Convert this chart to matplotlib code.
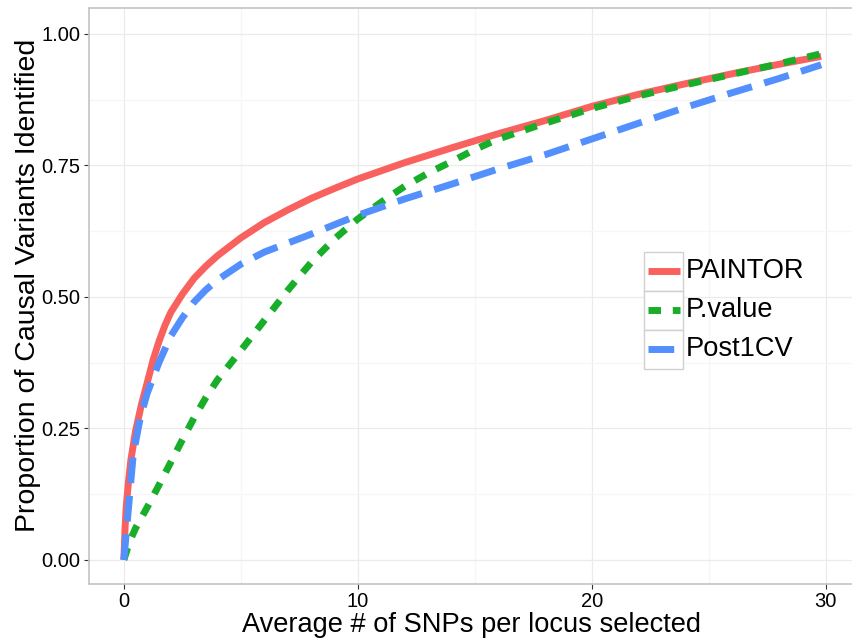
import matplotlib
matplotlib.use("Agg")
import matplotlib.pyplot as plt
from matplotlib.lines import Line2D
from matplotlib.patches import Rectangle
import numpy as np

plt.rcParams['font.family'] = ['Liberation Sans', 'DejaVu Sans']

# curves read as (avg SNPs selected, proportion of causal variants found)
paintor_x = [0, 0.05, 0.1, 0.2, 0.3, 0.5, 0.75, 1, 1.25, 1.5, 1.75, 2, 2.5, 3, 3.5, 4, 5, 6, 7, 8, 9, 10,
             12, 14, 16, 18, 20, 22, 24, 26, 28, 29.8]
paintor_y = [0.0, 0.06, 0.10, 0.15, 0.19, 0.245, 0.295, 0.337, 0.38, 0.415, 0.445, 0.47, 0.505, 0.535,
             0.558, 0.578, 0.612, 0.641, 0.665, 0.687, 0.706, 0.724, 0.755, 0.783, 0.81, 0.835, 0.862,
             0.885, 0.905, 0.924, 0.942, 0.957]

pvalue_x = [0, 0.25, 0.5, 1, 1.5, 2, 2.5, 3, 3.5, 4, 5, 6, 7, 8, 9, 10, 11, 12, 13, 14, 15, 16, 18, 20,
            22, 24, 26, 28, 29.8]
pvalue_y = [0.0, 0.035, 0.06, 0.10, 0.142, 0.185, 0.228, 0.27, 0.308, 0.342, 0.398, 0.455, 0.512, 0.565,
            0.61, 0.648, 0.68, 0.71, 0.735, 0.757, 0.78, 0.80, 0.83, 0.858, 0.882, 0.903, 0.923, 0.943, 0.962]

post1cv_x = [0, 0.1, 0.2, 0.4, 0.7, 1, 1.5, 2, 2.5, 3, 3.5, 4, 5, 6, 7, 8, 9, 10, 12, 14, 16, 18, 20, 22,
             24, 26, 28, 29.8]
post1cv_y = [0.0, 0.05, 0.10, 0.20, 0.27, 0.317, 0.375, 0.425, 0.46, 0.49, 0.513, 0.532, 0.562, 0.585,
             0.602, 0.619, 0.637, 0.655, 0.686, 0.714, 0.743, 0.77, 0.80, 0.83, 0.86, 0.888, 0.915, 0.941]

labels = ['PAINTOR', 'P.value', 'Post1CV']
colors = ['#F8615E', '#18AE2A', '#5390FE']
dashes = [None, (1.8, 1.7), (3.7, 1.85)]  # in units of line width

x_ticks = [0, 10, 20, 30]
y_ticks = [0.00, 0.25, 0.50, 0.75, 1.00]
y_ticklabels = ['0.00', '0.25', '0.50', '0.75', '1.00']

W, H = 852, 640
fig = plt.figure(figsize=(W / 100, H / 100), dpi=100)
ax = fig.add_axes([89 / W, 1 - 584 / H, (856 - 89) / W, (584 - 8) / H])
ax.set_xlim(-1.49, 31.29)
ax.set_ylim(-0.046, 1.049)

lw = 5.0
series = [(paintor_x, paintor_y), (pvalue_x, pvalue_y), (post1cv_x, post1cv_y)]
for (xs, ys), c, d in zip(series, colors, dashes):
    line, = ax.plot(xs, ys, color=c, lw=lw, solid_capstyle='butt', dash_capstyle='butt',
                    solid_joinstyle='round')
    if d is not None:
        line.set_dashes(d)

ax.set_xticks(x_ticks)
ax.set_yticks(y_ticks)
ax.set_yticklabels(y_ticklabels)
ax.set_xticks([5, 15, 25], minor=True)
ax.set_yticks([0.125, 0.375, 0.625, 0.875], minor=True)
ax.grid(which='major', color='#EBEBEB', lw=0.9)
ax.grid(which='minor', color='#F6F6F6', lw=0.9)
ax.set_axisbelow(True)
ax.tick_params(which='major', length=3.6, width=0.8, color='#333333', labelsize=14.5, pad=2.5)
ax.tick_params(which='minor', length=0)
for s in ax.spines.values():
    s.set_color('#C4C4C4')
    s.set_linewidth(1.2)

ax.set_xlabel('Average # of SNPs per locus selected', fontsize=19.6)
ax.set_ylabel('Proportion of Causal Variants Identified', fontsize=20.5)
ax.xaxis.set_label_coords((472 - 89) / (856 - 89), -(625 - 584) / (584 - 8))
ax.xaxis.label.set_va('center')
ax.yaxis.set_label_coords(-(89 - 28) / (856 - 89), (584 - 285) / (584 - 8))
ax.yaxis.label.set_va('center')


def fx(px):
    return px / W


def fy(py):
    return 1 - py / H


# legend with boxed keys
top = 251.5
key = 39
for i, (lab, c, d) in enumerate(zip(labels, colors, dashes)):
    y0 = top + i * key
    fig.add_artist(Rectangle((fx(644), fy(y0 + key)), key / W, key / H, transform=fig.transFigure,
                             facecolor='white', edgecolor='#D0D0D0', lw=1.0))
    ym = fy(y0 + key / 2)
    ln = Line2D([fx(648), fx(680)], [ym, ym], transform=fig.transFigure, color=c, lw=lw,
                solid_capstyle='butt', dash_capstyle='butt')
    if d is not None:
        ln.set_dashes(d)
    fig.add_artist(ln)
    fig.text(fx(686), ym, lab, fontsize=19.6, va='center', ha='left')

fig.savefig('out.png', dpi=100)
